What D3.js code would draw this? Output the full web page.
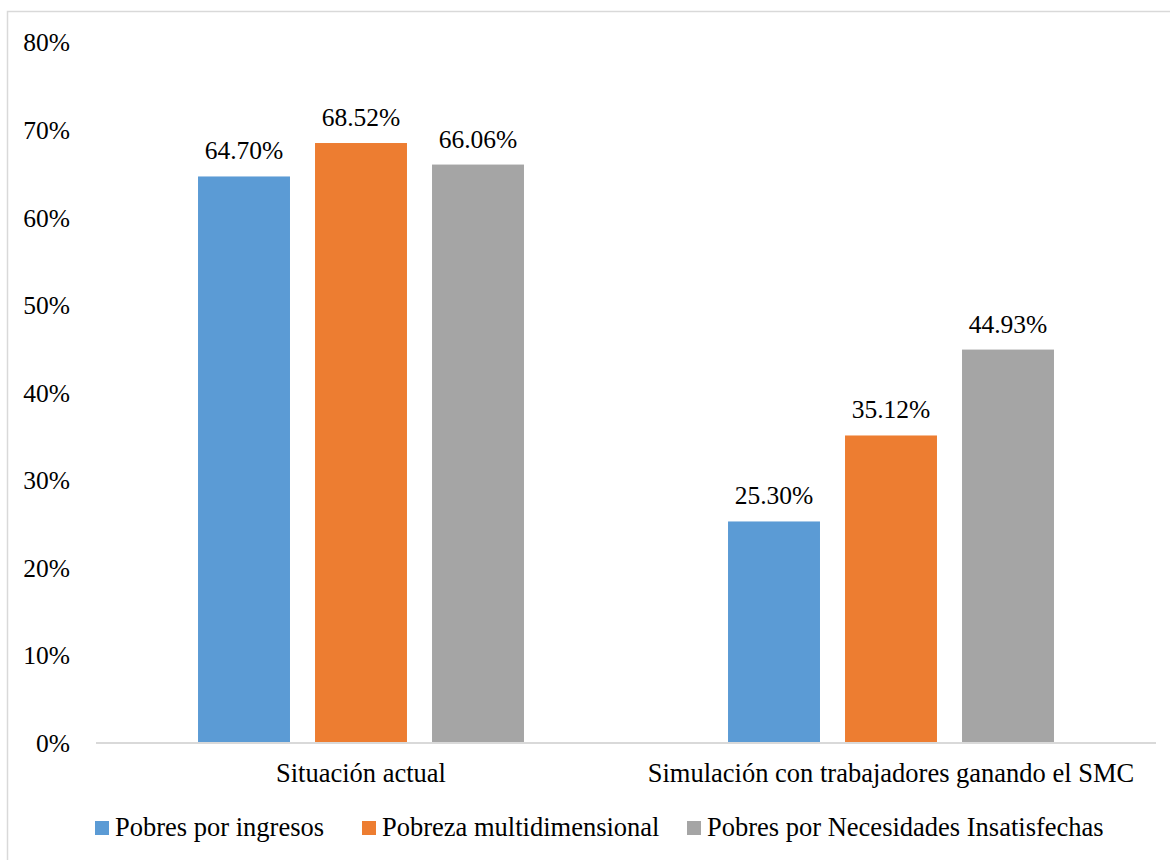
<!DOCTYPE html>
<html>
<head>
<meta charset="utf-8">
<script src="https://cdn.jsdelivr.net/npm/d3@7"></script>
<style>
  body { margin: 0; background: #fff; }
</style>
</head>
<body>
<script>
// chart data
var categories = ["Situación actual", "Simulación con trabajadores ganando el SMC"];
var series = ["Pobres por ingresos", "Pobreza multidimensional", "Pobres por Necesidades Insatisfechas"];
var pobresIngresos = [64.70, 25.30];
var pobrezaMulti = [68.52, 35.12];
var pobresNBI = [66.06, 44.93];
var yTicks = [0, 10, 20, 30, 40, 50, 60, 70, 80];
var colors = ["#5b9bd5", "#ed7d31", "#a5a5a5"];

var width = 1170, height = 860;
var font = "Liberation Serif";
var numSize = 25.5, textSize = 26.5;

var svg = d3.select("body").append("svg")
    .attr("width", width)
    .attr("height", height)
    .attr("font-family", font);

// outer chart border (right/bottom edges fall outside the picture)
svg.append("rect")
    .attr("x", 7.5)
    .attr("y", 11.5)
    .attr("width", width)
    .attr("height", height)
    .style("fill", "none")
    .style("stroke", "#d9d9d9")
    .style("stroke-width", 1.5);

var y = d3.scaleLinear().domain([0, 80]).range([743, 42.5]);

var x0 = d3.scaleBand().domain(categories).range([96, 1156]);
var pad = x0.bandwidth() * 0.1925;
var x1 = d3.scaleBand().domain(series)
    .range([pad, x0.bandwidth() - pad])
    .paddingInner(0.214);

// build rows from the arrays
var rows = categories.map(function(c, i) {
  return {cat: c, vals: [pobresIngresos[i], pobrezaMulti[i], pobresNBI[i]]};
});

// y tick labels
svg.selectAll(".ylab")
    .data(yTicks)
  .enter().append("text")
    .attr("class", "ylab")
    .attr("x", 70)
    .attr("y", function(d) { return y(d); })
    .attr("dy", "0.35em")
    .attr("text-anchor", "end")
    .attr("font-family", font)
    .attr("font-size", numSize)
    .text(function(d) { return d + "%"; });

// bars
var groups = svg.selectAll(".grp")
    .data(rows)
  .enter().append("g")
    .attr("class", "grp")
    .attr("transform", function(d) { return "translate(" + x0(d.cat) + ",0)"; });

groups.selectAll("rect")
    .data(function(d) { return d.vals.map(function(v, i) { return {s: series[i], v: v, i: i}; }); })
  .enter().append("rect")
    .attr("x", function(d) { return x1(d.s); })
    .attr("width", x1.bandwidth())
    .attr("y", function(d) { return y(d.v); })
    .attr("height", function(d) { return y(0) - y(d.v); })
    .style("fill", function(d) { return colors[d.i]; });

groups.selectAll(".val")
    .data(function(d) { return d.vals.map(function(v, i) { return {s: series[i], v: v}; }); })
  .enter().append("text")
    .attr("class", "val")
    .attr("x", function(d) { return x1(d.s) + x1.bandwidth() / 2; })
    .attr("y", function(d) { return y(d.v) - 17; })
    .attr("text-anchor", "middle")
    .attr("font-family", font)
    .attr("font-size", numSize)
    .text(function(d) { return d.v.toFixed(2) + "%"; });

// x axis baseline
svg.append("line")
    .attr("x1", 96)
    .attr("x2", 1156)
    .attr("y1", y(0))
    .attr("y2", y(0))
    .style("stroke", "#d9d9d9")
    .style("stroke-width", 2);

// category labels
svg.selectAll(".cat")
    .data(categories)
  .enter().append("text")
    .attr("class", "cat")
    .attr("x", function(d) { return x0(d) + x0.bandwidth() / 2; })
    .attr("y", 782)
    .attr("text-anchor", "middle")
    .attr("font-family", font)
    .attr("font-size", textSize)
    .text(function(d) { return d; });

// legend
var legendX = [95, 362, 687];
var legend = svg.selectAll(".legend")
    .data(series)
  .enter().append("g")
    .attr("class", "legend")
    .attr("transform", function(d, i) { return "translate(" + legendX[i] + ",0)"; });

legend.append("rect")
    .attr("y", 821)
    .attr("width", 14)
    .attr("height", 14)
    .style("fill", function(d, i) { return colors[i]; });

legend.append("text")
    .attr("x", 20)
    .attr("y", 836)
    .attr("font-family", font)
    .attr("font-size", textSize)
    .text(function(d) { return d; });
</script>
</body>
</html>
